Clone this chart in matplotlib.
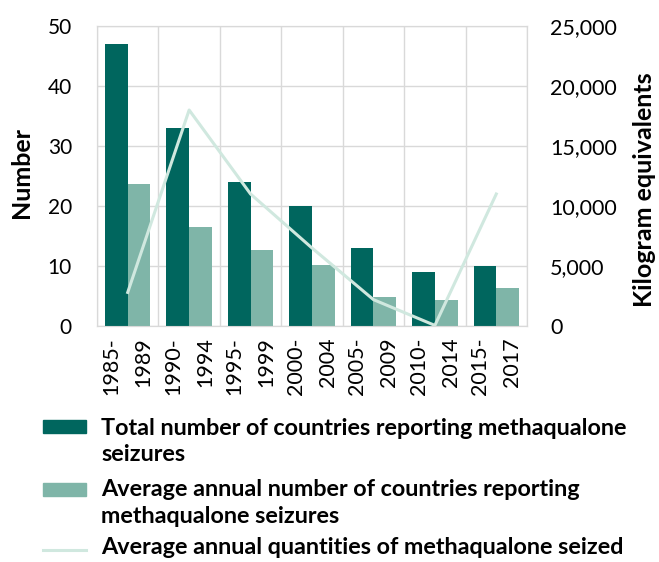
import matplotlib
matplotlib.use("Agg")
import matplotlib.pyplot as plt
import numpy as np
from matplotlib.lines import Line2D
from matplotlib.patches import Rectangle

plt.rcParams['font.family'] = ['Lato', 'DejaVu Sans']

categories = ["1985-\n1989", "1990-\n1994", "1995-\n1999", "2000-\n2004",
              "2005-\n2009", "2010-\n2014", "2015-\n2017"]
total_countries = [47, 33, 24, 20, 13, 9, 10]
avg_countries = [23.6, 16.5, 12.7, 10.1, 4.9, 4.4, 6.3]
avg_quantities = [2800, 18000, 11000, 6500, 2200, 50, 11000]
legend_labels = ["Total number of countries reporting methaqualone\nseizures",
                 "Average annual number of countries reporting\nmethaqualone seizures",
                 "Average annual quantities of methaqualone seized"]

dark = "#00665E"
light = "#7FB5A8"
linec = "#D0E8DF"
gridc = "#D9D9D9"

W, H = 659, 562
fig = plt.figure(figsize=(W/100, H/100), dpi=100)
ax = fig.add_axes([97/W, 1-326/H, 430/W, 300/H])
ax2 = ax.twinx()

x = np.arange(len(categories))
w = 0.37
ax.bar(x - w/2, total_countries, w, color=dark, zorder=3)
ax.bar(x + w/2, avg_countries, w, color=light, zorder=3)
ax2.plot(x, avg_quantities, color=linec, lw=2.2, zorder=4)

ax.set_xlim(-0.5, len(categories) - 0.5)
ax.set_ylim(0, 50)
ax.set_yticks(range(0, 51, 10))
ax2.set_ylim(0, 25000)
ax2.set_yticks(range(0, 25001, 5000))
ax2.set_yticklabels([f"{v:,}" for v in range(0, 25001, 5000)])

ax.set_xticks(x)
ax.set_xticklabels(categories, rotation=90, fontsize=15.5, linespacing=1.75,
                   multialignment='right', va='top')
ax.set_xticks(np.arange(-0.5, len(categories), 1), minor=True)
ax.grid(True, which='minor', axis='x', color=gridc, lw=1, zorder=0)
ax.grid(True, which='major', axis='y', color=gridc, lw=1, zorder=0)
ax.tick_params(axis='x', which='both', length=0, pad=8)
ax.tick_params(axis='y', length=0, labelsize=15, pad=18)
ax2.tick_params(axis='y', length=0, labelsize=15.5, pad=16.5)
for a in (ax, ax2):
    for s in a.spines.values():
        s.set_color(gridc)
ax2.set_zorder(ax.get_zorder() + 1)
ax2.patch.set_visible(False)

def fy(py):
    return 1 - py / H

fig.text(22/W, fy(172.5), "Number", rotation=90, fontsize=18, fontweight='bold',
         ha='center', va='center')
fig.text(644/W, fy(190), "Kilogram equivalents", rotation=90, fontsize=18,
         fontweight='bold', ha='center', va='center')

# legend drawn manually in figure pixel coords
tprops = dict(fontsize=16.8, fontweight='bold', va='center', ha='left',
              linespacing=1.3, transform=fig.transFigure)
fig.text(101/W, fy(441.5), legend_labels[0], **tprops)
fig.text(101/W, fy(503), legend_labels[1], **tprops)
fig.text(101/W, fy(548), legend_labels[2], **tprops)
fig.patches.append(Rectangle((43/W, fy(433)), 43/W, 13/H, color=dark,
                             transform=fig.transFigure, figure=fig))
fig.patches.append(Rectangle((43/W, fy(496)), 43/W, 13/H, color=light,
                             transform=fig.transFigure, figure=fig))
fig.lines.append(Line2D([43/W, 86/W], [fy(550), fy(550)], color=linec, lw=2.2,
                        transform=fig.transFigure, figure=fig))

fig.savefig("out.png", dpi=100)
